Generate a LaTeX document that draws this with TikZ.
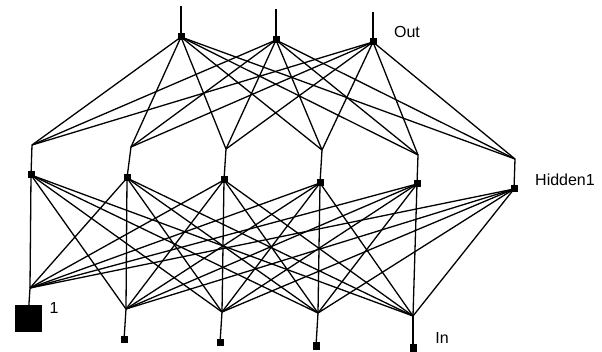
\documentclass[tikz,border=0pt]{standalone}
\usepackage{fontspec}
\setmainfont{Liberation Sans}
\begin{document}
\begin{tikzpicture}[x=1pt,y=-1pt,
  unit/.style={fill=black, minimum size=7pt, inner sep=0pt, outer sep=0pt},
  biasunit/.style={fill=black, minimum size=27pt, inner sep=0pt, outer sep=0pt},
  conn/.style={draw=black, line width=1.3pt},
  lbl/.style={font=\fontsize{16}{16}\selectfont, inner sep=0pt}]
\useasboundingbox (0,0) rectangle (602,352);
% output units
\node[unit] (o1) at (181,37) {};
\node[unit] (o2) at (276,40) {};
\node[unit] (o3) at (373,42) {};
\coordinate (t1) at (181,6);
\coordinate (t2) at (276,9);
\coordinate (t3) at (373,12);
% hidden fan points and units
\coordinate (hf1) at (32,145);
\coordinate (hf2) at (131,147);
\coordinate (hf3) at (226,149);
\coordinate (hf4) at (322,150);
\coordinate (hf5) at (418,155);
\coordinate (hf6) at (515,159);
\node[unit] (h1) at (31,175) {};
\node[unit] (h2) at (127,178) {};
\node[unit] (h3) at (224,180) {};
\node[unit] (h4) at (320,183) {};
\node[unit] (h5) at (417,184) {};
\node[unit] (h6) at (514,189) {};
% input fan points and units
\coordinate (if0) at (30,288);
\coordinate (if1) at (126,309);
\coordinate (if2) at (222,312);
\coordinate (if3) at (318,313);
\coordinate (if4) at (413,316);
\node[biasunit] (in0) at (28,318.5) {};
\node[unit] (in1) at (124,340) {};
\node[unit] (in2) at (220,343) {};
\node[unit] (in3) at (316,346) {};
\node[unit] (in4) at (413,348) {};
% connectors
\foreach \o in {1,2,3} {
  \draw[conn] (t\o) -- (o\o.center);
  \foreach \h in {1,...,6} { \draw[conn] (o\o.center) -- (hf\h); }
}
\foreach \h in {1,...,6} { \draw[conn] (hf\h) -- (h\h.center); }
\foreach \i in {0,...,4} {
  \draw[conn] (if\i) -- (in\i.center);
  \foreach \h in {1,...,6} { \draw[conn] (if\i) -- (h\h.center); }
}
% labels
\node[lbl] (lout) at (407,32) {Out};
\node[lbl] (lhid) at (565,180) {Hidden1};
\node[lbl] (lone) at (54,308) {1};
\node[lbl] (lin) at (442,338) {In};
\end{tikzpicture}
\end{document}
